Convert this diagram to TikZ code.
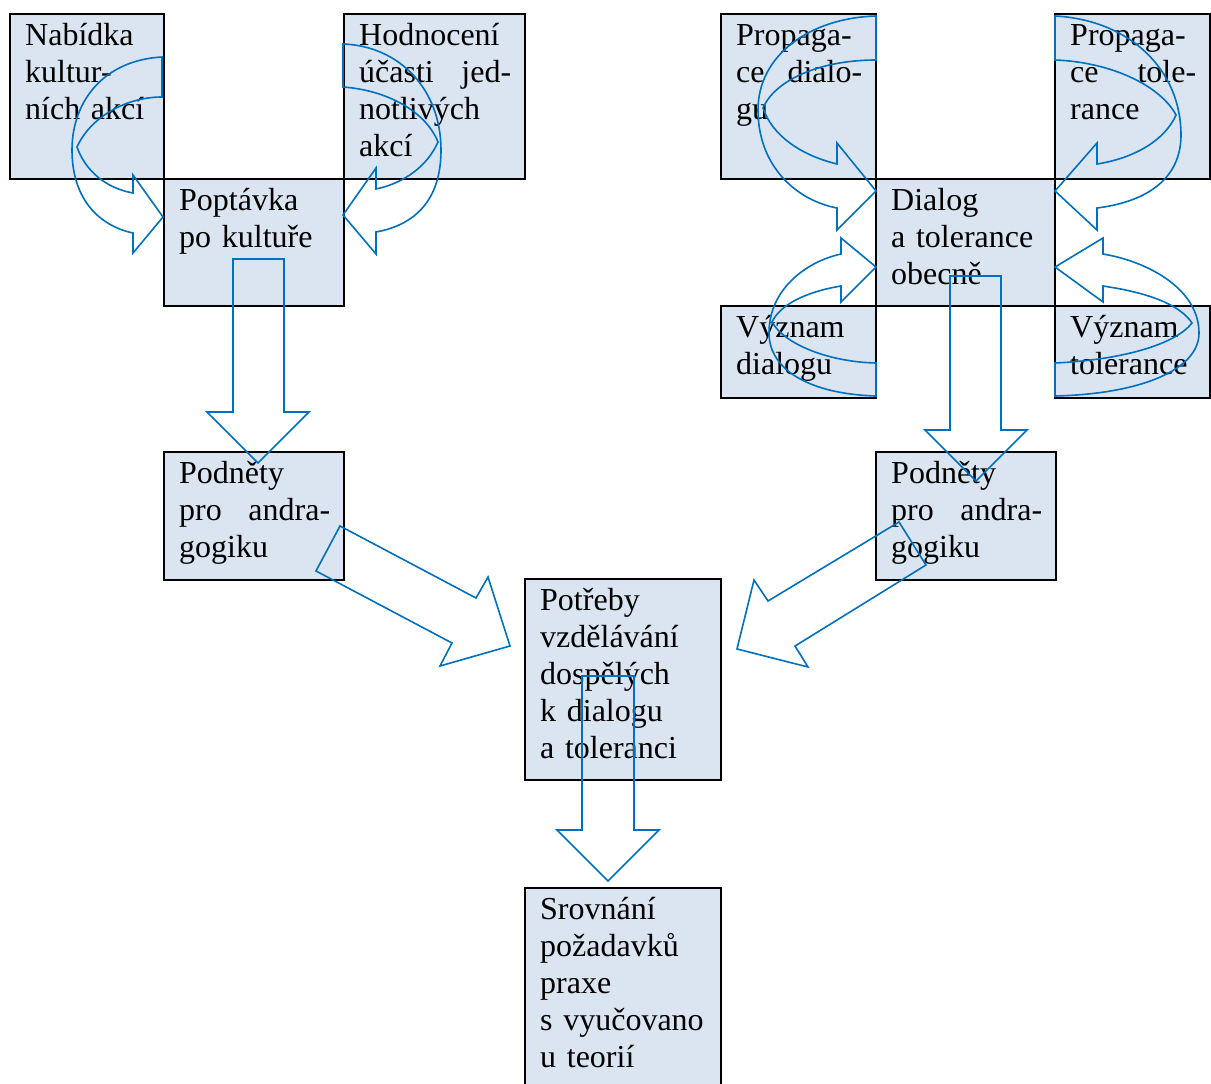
\documentclass[tikz,border=0pt]{standalone}
\usepackage{fontspec}
\setmainfont{Liberation Serif}
\definecolor{boxfill}{HTML}{DBE5F1}
\definecolor{arrowblue}{HTML}{0070C0}
\tikzset{
  box/.style={draw=black, line width=2pt, fill=boxfill, inner sep=0pt, outer sep=0pt, anchor=north west},
  txt/.style={inner sep=0pt, anchor=north west, align=left, font=\fontsize{32}{37}\selectfont},
  blockarrow/.style={draw=arrowblue, line width=1.6pt, line join=miter}
}
\newcommand{\diagbox}[6]{%
  \node[box, minimum width={#4-#2}, minimum height={#5-#3}] (#1) at (#2,#3) {};
  \node[txt, text width={#4-#2-29}] (#1-t) at ([xshift=15pt,yshift=-5.1pt]#1.north west) {\strut #6};
}
\begin{document}
\begin{tikzpicture}[x=1pt,y=-1pt]
\clip (0,0) rectangle (1211,1084);
\fill[white] (0,0) rectangle (1211,1084);
% boxes
\diagbox{nab}{10}{14}{164}{179}{Nabídka\\kultur-\\ních akcí}
\diagbox{hod}{344}{14}{525}{179}{Hodnocení\\účasti\hfill jed-\\notlivých\\akcí}
\diagbox{pop}{164}{179}{344}{306}{Poptávka\\po kultuře}
\diagbox{podl}{164}{452}{344}{580}{Podněty\\pro\hfill andra-\\gogiku}
\diagbox{prd}{721}{14}{876}{179}{Propaga-\\ce\hfill dialo-\\gu}
\diagbox{prt}{1055}{14}{1210}{179}{Propaga-\\ce\hfill tole-\\rance}
\diagbox{dia}{876}{179}{1055}{306}{Dialog\\a tolerance\\obecně}
\diagbox{vyd}{721}{306}{876}{398}{Význam\\dialogu}
\diagbox{vyt}{1055}{306}{1210}{398}{Význam\\tolerance}
\diagbox{podr}{876}{452}{1056}{580}{Podněty\\pro\hfill andra-\\gogiku}
\diagbox{pot}{525}{579}{721}{780}{Potřeby\\vzdělávání\\dospělých\\k dialogu\\a toleranci}
\diagbox{srv}{525}{888}{721}{1100}{Srovnání\\požadavků\\praxe\\s vyučovano\\u teorií}
% curved arrows
\draw[blockarrow] (162,97) -- (162,57) .. controls (105,60) and (72,100) .. (72,150) .. controls (72,200) and (100,226) .. (133,233) -- (133,253) -- (163,217) -- (133,175) -- (133,193) .. controls (105,188) and (85,170) .. (77,147) .. controls (90,118) and (125,97) .. cycle;
\draw[blockarrow] (343,87) -- (343,44) .. controls (400,46) and (441,90) .. (441,150) .. controls (441,200) and (415,225) .. (376,232) -- (376,254) -- (343,215) -- (376,168) -- (376,189) .. controls (405,183) and (428,165) .. (438,142) .. controls (425,110) and (385,90) .. cycle;
\draw[blockarrow] (876,60) -- (876,16) .. controls (810,18) and (758,55) .. (758,110) .. controls (758,165) and (795,200) .. (837,208) -- (837,230) -- (876,191) -- (837,143) -- (837,164) .. controls (800,155) and (772,135) .. (763,108) .. controls (775,80) and (820,60) .. cycle;
\draw[blockarrow] (1055,60) -- (1055,16) .. controls (1130,20) and (1181,70) .. (1181,135) .. controls (1181,180) and (1145,202) .. (1097,208) -- (1097,230) -- (1055,191) -- (1097,143) -- (1097,164) .. controls (1135,158) and (1165,140) .. (1176,115) .. controls (1160,85) and (1110,62) .. cycle;
\draw[blockarrow] (876,363) -- (876,396) .. controls (810,394) and (769,370) .. (769,333) .. controls (769,290) and (805,262) .. (841,254) -- (841,238) -- (876,267) -- (841,302) -- (841,286) .. controls (805,292) and (780,305) .. (772,322) .. controls (785,345) and (830,362) .. cycle;
\draw[blockarrow] (1055,363) -- (1055,396) .. controls (1140,394) and (1199,370) .. (1199,333) .. controls (1199,290) and (1150,262) .. (1103,254) -- (1103,238) -- (1055,267) -- (1103,302) -- (1103,286) .. controls (1150,293) and (1180,305) .. (1192,323) .. controls (1175,345) and (1120,360) .. cycle;
% straight block arrows
\draw[blockarrow] (233,259) -- (284,259) -- (284,412) -- (309,412) -- (258,463) -- (207,412) -- (233,412) -- cycle;
\draw[blockarrow] (950,276) -- (1001,276) -- (1001,430) -- (1027,430) -- (976,481) -- (925,430) -- (950,430) -- cycle;
\draw[blockarrow] (582,676) -- (634,676) -- (634,830) -- (659,830) -- (608,881) -- (557,830) -- (582,830) -- cycle;
\draw[blockarrow] (340,526) -- (476,598) -- (488,577) -- (510,646) -- (440,666) -- (452,643) -- (316,571) -- cycle;
\draw[blockarrow] (899,522) -- (926,565) -- (795,646) -- (808,667) -- (737,649) -- (754,580) -- (768,601) -- cycle;
\end{tikzpicture}
\end{document}
